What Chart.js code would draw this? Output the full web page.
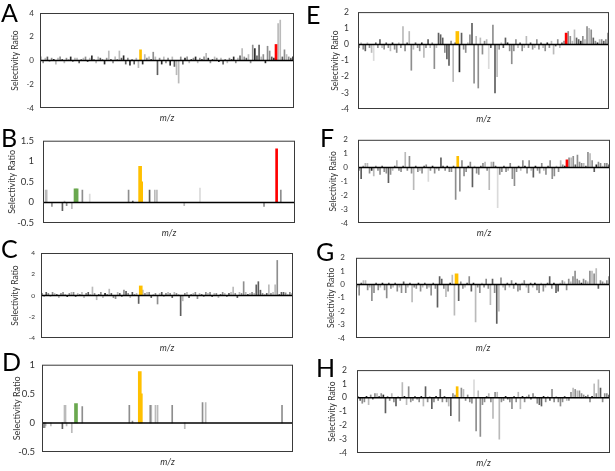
<!DOCTYPE html>
<html>
<head>
<meta charset="utf-8">
<script src="https://cdn.jsdelivr.net/npm/chart.js@4.4.1/dist/chart.umd.min.js"></script>
<style>
  body { margin: 0; background: #fff; }
  #page { position: relative; width: 615px; height: 471px; overflow: hidden; }
  canvas { position: absolute; }
  .letter { position: absolute; font: 25px Lato, "Open Sans", sans-serif; line-height: 1; color: #000; }
</style>
</head>
<body>
<div id="page"></div>
<script>
// Panel data: one value per m/z variable, tone = shading class of each bar
// tones: k black, d dark grey, m grey, l light grey, v very light, y yellow, r red, g green

const aVals = [
  0.3,-0.2,0.2,0.3,-0.1,0.2,0.1,-0.3,0.2,0.3,0.1,-0.2,0.2,0.1,0.3,-0.1,0.2,0.2,-0.2,0.1,
  0.2,0.3,-0.1,0.2,0.4,0.1,-0.2,0.3,0.2,0.1,-0.3,0.2,0.8,0.1,-0.2,0.3,0.1,0.8,0.2,0.4,
  -0.3,0.2,-0.4,0.1,-0.3,0.2,-0.6,0.9,-0.3,0.5,0.2,0.3,0.1,0.7,0.3,-1.2,0.2,-0.3,0.3,-0.2,
  0.2,-0.4,0.3,-0.5,-1.2,-1.9,0.3,-0.3,0.2,0.3,-0.2,0.1,0.2,0.3,-0.2,0.2,0.1,0.3,0.6,0.2,
  -0.2,0.1,0.3,0.2,-0.1,0.2,-0.3,0.1,-0.2,0.2,0.1,0.3,-0.2,0.2,0.4,1.0,0.3,0.2,0.5,-0.2,
  1.3,1.0,0.4,1.3,0.3,0.5,-0.2,1.2,0.8,0.3,0.2,1.35,3.1,3.4,0.3,0.9,0.5,0.3,0.2,0.3
];
const aTones = (
  'l m l d l m k l l m d l m l k m l l d m ' +
  'l m d l k m l l d m k m l d m l m l d k ' +
  'd m k m d l l y k l m l d m l d m k l m ' +
  'm k l d l l m d k m l d m k l m d m l k ' +
  'm d l m k l d m l m d k m l d l m d l m ' +
  'm k d d l m k m m d k r l l d m l m d k').split(' ');

const bPos = [2,3,8,18,20,22,27,30,32,37,44,81,85,92,93,101,106,108,134,149,210,222,226];
const bVals = [0.3,0.3,-0.1,-0.2,0.03,-0.08,-0.15,0.33,0.33,0.3,0.2,0.3,0.03,0.88,0.5,0.3,0.3,0.3,-0.08,0.35,-0.1,1.3,0.3];
const bTones = 'l l m d l m l g g m v m d y y d l l l v m r m'.split(' ');

const cVals = [
  0.2,-0.1,0.3,0.2,-0.1,0.3,0.2,0.1,-0.2,0.2,0.3,0.1,-0.1,0.2,0.3,0.3,-0.1,0.2,0.1,0.3,
  -0.2,0.2,0.3,0.1,0.8,0.2,-0.4,0.1,0.3,-0.2,0.2,0.1,0.6,0.2,-0.2,-0.3,0.3,0.2,-0.1,0.5,
  0.4,0.2,-0.2,0.3,0.1,0.2,-0.75,0.9,0.5,0.2,0.3,0.3,-0.2,0.1,0.2,-0.8,0.2,0.3,-0.1,0.2,
  0.3,0.2,-0.2,0.3,0.2,0.1,-1.9,-0.5,0.2,0.3,-0.2,0.1,0.2,0.3,-0.3,0.2,0.1,-0.1,0.3,0.2,
  0.3,-0.1,0.2,0.2,-0.2,0.1,0.3,0.2,-0.1,0.2,0.3,0.8,0.2,-0.2,0.3,0.2,1.3,0.3,0.1,0.2,
  0.3,0.2,1.0,1.3,0.5,0.2,0.1,0.2,1.0,0.2,0.3,1.0,3.3,0.1,0.3,0.3,0.25,0.1,0.3,0.2
];
const cTones = (
  'm l d m l m l d l m m l k m l m d l m l ' +
  'l m d l l m l d m l k m l d m m l d m m ' +
  'd m l d m l d y l m l m d l m m l d l m ' +
  'l m d l m l d l m l d m l m m l d m m l ' +
  'm d l m l d m l m d l l m d l m m l d l ' +
  'm l d d d m l d l m l l m d d d m l m l').split(' ');

const dPos = [1,2,3,8,19,21,22,23,28,32,38,83,86,93,94,103,104,108,110,124,136,153,156,229];
const dVals = [-0.08,-0.08,-0.05,-0.05,-0.1,0.3,0.3,-0.05,-0.17,0.33,0.28,0.3,0.03,0.88,0.5,0.3,0.3,0.3,0.3,0.3,-0.1,0.35,0.35,0.3];
const dTones = 'm m l l d l l l l g m m m y y m l l l m l m l m'.split(' ');

const eVals = [
  -0.2,0.1,-0.3,-0.4,0.1,-0.2,-0.5,-1.0,0.1,-0.2,0.3,-0.2,-0.3,0.1,-0.2,-0.4,0.1,-0.3,-0.5,0.1,
  -0.2,1.1,-0.4,0.1,0.8,-1.6,-0.3,0.1,-0.2,-0.4,0.1,-0.8,-0.2,0.3,-0.2,0.1,-1.5,-0.2,0.7,0.6,
  0.4,-0.5,-0.9,-1.3,0.2,-2.3,0.1,0.8,-1.7,0.7,-0.3,-0.5,0.1,0.6,1.3,-2.4,0.5,-2.7,0.4,-0.6,
  0.2,0.3,-1.5,-0.2,1.2,-3.0,-2.0,-0.3,0.1,-0.2,0.4,0.1,-0.4,-1.2,-0.4,0.3,-0.2,0.1,-0.4,-0.2,
  0.5,-0.2,0.1,-0.3,-0.2,0.3,-0.3,0.1,-0.2,-0.4,0.1,-0.2,0.2,-0.6,-0.1,0.3,-0.2,0.1,0.2,0.7,
  0.8,0.5,0.2,0.9,0.4,0.3,0.2,0.5,0.3,1.1,1.0,0.9,0.4,0.2,0.1,0.3,0.3,0.2,0.3,0.7
];
const eTones = (
  'm l m d l m l v d m d l m d m l k m m l ' +
  'm l m d l m l d m m k l m d l m m l d d ' +
  'd m d d m l d y k d m m l m d m l m l m ' +
  'm l v d m d l m l d d k m m m m l d m l ' +
  'l m d m l m m d l m k m l l d m l d m r ' +
  'm m l l d d k m l m l m d m k l m d m m').split(' ');

const fVals = [
  -0.2,-0.8,0.1,0.3,0.3,-0.4,-0.2,-0.6,0.1,-0.2,-0.5,0.1,-0.3,-0.4,-1.1,-0.5,-0.2,0.1,0.5,-0.2,
  -0.3,0.1,1.1,-0.2,0.8,-0.4,-1.6,0.1,-0.3,-0.2,-0.4,0.1,0.2,-1.0,-0.2,0.1,-0.4,-0.1,-0.2,0.7,
  0.1,-0.2,0.1,-0.3,-0.3,0.1,-2.3,0.8,-1.7,0.5,-0.6,-0.3,0.1,0.4,-1.4,0.1,-0.4,-0.5,0.1,0.3,
  0.4,-0.2,-1.6,0.4,0.4,0.1,-2.9,-0.5,-0.3,0.1,-0.3,-0.2,0.3,-0.8,-1.3,-0.3,0.1,-0.2,0.5,0.1,
  -0.4,0.5,-0.2,-0.7,0.1,-0.2,-0.4,0.3,-0.2,-0.5,0.1,0.5,-0.8,-0.6,0.1,-0.3,0.5,0.2,0.1,0.55,
  0.7,0.7,0.8,0.2,0.9,0.4,0.3,0.3,0.1,1.1,1.0,0.5,-0.3,0.2,0.4,0.3,0.1,0.3,0.3,0.2
];
const fTones = (
  'm d m l l m k l m m m d m m d m l d l m ' +
  'm d l m m m l d m l m d m v m k m l m d ' +
  'd m k m m d m y m m m m k m d l m m d m ' +
  'l m l l m d v m m d m l m m m m d l m k ' +
  'm m l d k m m m l m d m m m l m l m k r ' +
  'm l m d m m m l d m l m d k m m l m m d').split(' ');

const gVals = [
  -0.2,-0.8,0.1,0.3,0.3,-0.4,-0.2,-1.2,-0.6,0.1,-0.4,-0.2,0.1,-0.4,-1.0,0.1,-0.3,-0.2,0.1,-0.5,
  -0.2,-0.6,0.2,-0.6,-0.2,0.1,-1.3,-0.2,-0.3,0.1,-0.5,-0.2,0.1,-0.3,-0.2,-0.8,0.1,-0.3,-1.7,0.6,
  0.4,-0.3,-0.9,-0.5,0.1,0.7,-2.3,0.8,-1.2,0.2,-0.3,-0.2,0.1,0.6,-0.5,0.1,-2.8,-0.2,-0.6,0.1,
  -0.2,0.4,-0.3,-1.5,0.4,-0.6,-2.9,-2.0,0.5,-0.2,-0.4,0.1,-0.2,0.3,-0.3,0.1,-0.5,-0.4,0.1,0.3,
  -0.2,-0.6,0.1,-0.2,0.1,-0.4,-0.6,0.1,-0.5,-0.2,0.1,0.6,-0.3,0.1,-0.6,-0.5,0.1,0.3,0.2,-0.4,
  0.4,0.2,0.6,1.0,0.4,0.3,0.1,0.4,0.3,0.2,1.0,1.0,0.8,1.2,-0.3,0.3,0.2,0.1,0.3,0.6
];
const gTones = (
  'l m d l l m l m m d m l k m m d m l d m ' +
  'l m d m l d l m m k m l d m l m d m d d ' +
  'd m l m k l l y d m m l d m d k l m m l ' +
  'm m m l d m d l m l m d l m m k m m l m ' +
  'l m d l k m m l m l d d m k d d l m l m ' +
  'm l m m m m k m m l m l m l d m m l m m').split(' ');

const hVals = [
  0.1,-0.2,-0.4,-0.3,0.1,-0.5,0.2,-0.1,0.3,0.3,0.1,0.3,0.2,-1.1,0.1,-0.2,0.3,-0.3,-0.6,0.1,
  -0.2,1.1,0.1,-0.5,0.8,-0.3,-0.2,0.1,-0.1,-0.3,0.1,-0.6,0.8,-0.3,0.1,-0.8,-0.3,0.1,-0.2,0.6,
  -0.3,0.1,-0.3,-0.6,-1.3,0.3,0.2,0.8,-1.7,0.7,0.6,-0.2,0.2,-0.3,-0.4,1.3,-2.4,0.5,-2.8,-0.5,
  -0.3,0.1,0.3,-0.3,-1.5,0.4,0.4,-3.0,-0.3,-0.2,0.1,-0.1,-0.3,-0.8,0.1,-0.3,0.4,-0.8,0.1,-0.3,
  0.1,0.2,-0.1,0.3,0.1,-0.4,-0.5,-0.6,0.1,-0.3,0.1,-0.2,0.6,-0.3,0.1,-0.3,-0.6,-0.3,0.1,-0.2,
  -0.2,0.4,0.7,0.6,0.5,0.5,0.3,0.2,0.1,0.2,-0.3,0.1,1.0,0.3,1.3,0.7,-0.3,0.3,0.3,0.2
];
const hTones = (
  'm d m m k l m d m l d m k d m m l m d l ' +
  'm l k l m m m d m m k l d m l d m k m d ' +
  'm d m l d m m y m m l m m m m v m l m m ' +
  'm d l m l m l l m m k d m m d m l l k m ' +
  'l m d m l m d d k m l d m m l m m m d l ' +
  'm m l m l m m m d m m k l m l d m m m d').split(' ');

const toneColors = {
  k: '#2b2b2b', d: '#5e5e5e', m: '#8e8e8e', l: '#bababa', v: '#dadada',
  y: '#ffc000', r: '#ff0000', g: '#6aa84f'
};
const toneOrder = ['y', 'r', 'g', 'k', 'd', 'm', 'l', 'v'];

// layout of each panel: plot box in page pixels and text placement
const panels = [
  { id: 'A', vals: aVals, tones: aTones, pos: null, n: 120, box: [40, 13, 294, 108], min: -4, max: 4, step: 2, tick: 8, tickPad: 6, title: 8.5, titleX: 15, letter: [1, 0], w: { y: 2, r: 2 } },
  { id: 'B', vals: bVals, tones: bTones, pos: bPos, n: 240, box: [43, 138, 295, 223], min: -0.5, max: 1.5, step: 0.5, tick: 9.5, tickPad: 9, title: 9, titleX: 12, letter: [1, 125], w: { y: 3, r: 2, g: 2 } },
  { id: 'C', vals: cVals, tones: cTones, pos: null, n: 120, box: [41, 253, 293, 338], min: -4, max: 4, step: 2, tick: 6.5, tickPad: 6, title: 8.5, titleX: 15.5, letter: [1, 236], w: { y: 3 } },
  { id: 'D', vals: dVals, tones: dTones, pos: dPos, n: 240, box: [42, 364, 293, 452], min: -0.5, max: 1, step: 0.5, tick: 9.5, tickPad: 7, title: 9, titleX: 17, letter: [2, 349], w: { y: 3, g: 3 } },
  { id: 'E', vals: eVals, tones: eTones, pos: null, n: 120, box: [358, 10, 609, 109], min: -4, max: 2, step: 1, tick: 8.5, tickPad: 9, title: 8.5, titleX: 335, letter: [306, 2], w: { y: 3, r: 2 } },
  { id: 'F', vals: fVals, tones: fTones, pos: null, n: 120, box: [358, 137, 610, 223], min: -4, max: 2, step: 1, tick: 8, tickPad: 10, title: 8.5, titleX: 333, letter: [320, 125], w: { y: 2, r: 2 } },
  { id: 'G', vals: gVals, tones: gTones, pos: null, n: 120, box: [356, 254, 610, 338], min: -4, max: 2, step: 1, tick: 8, tickPad: 11, title: 8.5, titleX: 331, letter: [316, 239], w: { y: 3 } },
  { id: 'H', vals: hVals, tones: hTones, pos: null, n: 120, box: [357, 367, 610, 453], min: -4, max: 2, step: 1, tick: 8.5, tickPad: 10, title: 8.5, titleX: 332, letter: [316, 355], w: { y: 2 } }
];

const framePlugin = {
  id: 'frame',
  afterDatasetsDraw(chart) {
    const { ctx, chartArea: a, scales } = chart;
    const y0 = scales.y.getPixelForValue(0);
    ctx.save();
    ctx.strokeStyle = '#000';
    ctx.lineWidth = 1.5;
    ctx.beginPath();
    ctx.moveTo(a.left, y0);
    ctx.lineTo(a.right, y0);
    ctx.stroke();
    ctx.strokeStyle = '#3a3a3a';
    ctx.lineWidth = 1;
    ctx.strokeRect(a.left + 0.5, a.top + 0.5, a.right - a.left - 1, a.bottom - a.top - 1);
    ctx.restore();
  }
};

function buildDatasets(p) {
  if (p.vals.length !== p.tones.length) throw new Error(p.id + ' length mismatch ' + p.vals.length + ' ' + p.tones.length);
  return toneOrder.filter(t => p.tones.includes(t)).map(t => ({
    data: p.vals.map((v, i) => ({ x: p.pos ? p.pos[i] : i, y: v })).filter((pt, i) => p.tones[i] === t),
    backgroundColor: toneColors[t],
    barThickness: p.w[t] || 1,
    grouped: false
  }));
}

const page = document.getElementById('page');
const axisFont = 'Lato, "Open Sans", sans-serif';

panels.forEach(p => {
  const [l, t, r, b] = p.box;
  const canvas = document.createElement('canvas');
  const left = l - 40, top = t - 12;
  canvas.width = r - l + 46;
  canvas.height = b - t + 32;
  canvas.style.left = left + 'px';
  canvas.style.top = top + 'px';
  page.appendChild(canvas);

  const letter = document.createElement('div');
  letter.className = 'letter';
  letter.textContent = p.id;
  letter.style.left = p.letter[0] + 'px';
  letter.style.top = p.letter[1] + 'px';
  page.appendChild(letter);

  const titlePad = p.titleX - left - p.title * 0.6;

  new Chart(canvas, {
    type: 'bar',
    data: { datasets: buildDatasets(p) },
    options: {
      responsive: false,
      animation: false,
      layout: { padding: { top: 12, right: 6, left: 0, bottom: 0 } },
      plugins: { legend: { display: false }, tooltip: { enabled: false } },
      scales: {
        x: {
          type: 'linear',
          offset: false,
          min: -0.5,
          max: p.n - 0.5,
          ticks: { display: false },
          grid: { display: false, drawTicks: false },
          border: { display: false },
          title: {
            display: true, text: 'm/z', color: '#333',
            font: { family: axisFont, size: 9, style: 'italic' },
            padding: { top: 0, bottom: 5 }
          },
          afterFit(scale) { scale.height = 20; }
        },
        y: {
          min: p.min,
          max: p.max,
          ticks: {
            stepSize: p.step, color: '#333', padding: p.tickPad,
            font: { family: axisFont, size: p.tick },
            callback: v => String(v)
          },
          grid: { display: false, drawTicks: false },
          border: { display: false },
          title: {
            display: true, text: 'Selectivity Ratio', color: '#333',
            font: { family: axisFont, size: p.title },
            padding: { top: titlePad, bottom: 0 }
          },
          afterFit(scale) { scale.width = 40; }
        }
      }
    },
    plugins: [framePlugin]
  });
});
</script>
</body>
</html>
